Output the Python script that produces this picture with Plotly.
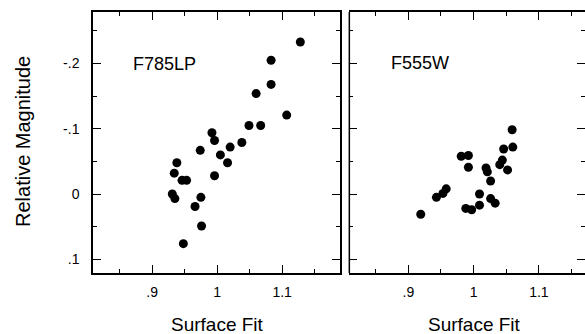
import plotly.graph_objects as go

# F785LP panel data (surface fit, relative magnitude)
f785_x = [1.128, 1.083, 1.083, 1.060, 1.107, 1.049, 1.067, 1.038, 1.020, 0.992,
          0.996, 0.974, 1.005, 1.016, 0.996, 0.938, 0.934, 0.946, 0.953, 0.931,
          0.935, 0.975, 0.966, 0.976, 0.948]
f785_y = [-0.233, -0.205, -0.168, -0.154, -0.121, -0.105, -0.105, -0.079, -0.072, -0.094,
          -0.082, -0.067, -0.060, -0.048, -0.028, -0.048, -0.032, -0.021, -0.021, 0.000,
          0.007, 0.005, 0.019, 0.049, 0.076]

# F555W panel data
f555_x = [1.059, 1.046, 1.060, 1.044, 1.040, 1.052, 0.981, 0.992, 0.992, 1.019,
          1.021, 1.026, 1.009, 1.009, 1.026, 1.033, 0.988, 0.997, 0.958, 0.953,
          0.943, 0.919]
f555_y = [-0.0985, -0.069, -0.072, -0.052, -0.045, -0.037, -0.058, -0.059, -0.041, -0.040,
          -0.034, -0.020, 0.000, 0.017, 0.007, 0.014, 0.022, 0.024, -0.008, -0.001,
          0.005, 0.031]

x_tickvals = [0.9, 1.0, 1.1]
x_ticktext = [".9", "1", "1.1"]
x_minor = [0.85, 0.95, 1.05, 1.15]
y_tickvals = [-0.2, -0.1, 0.0, 0.1]
y_ticktext = ["-.2", "-.1", "0", ".1"]
y_minor = [-0.25, -0.15, -0.05, 0.05]

FONT = "Liberation Sans, Arial, Helvetica, sans-serif"
W, H = 585, 334
ML, MR, MT, MB = 93, 0, 12, 61
PW, PH = W - ML - MR, H - MT - MB

def px(x):
    return (x - ML) / PW

def py(y):
    return (H - MB - y) / PH

marker = dict(color="black", size=9, line=dict(width=0))

fig = go.Figure()
fig.add_trace(go.Scatter(x=f785_x, y=f785_y, mode="markers", marker=marker,
                         xaxis="x", yaxis="y", showlegend=False, hoverinfo="skip"))
fig.add_trace(go.Scatter(x=f555_x, y=f555_y, mode="markers", marker=marker,
                         xaxis="x2", yaxis="y2", showlegend=False, hoverinfo="skip"))

axis_common = dict(
    showline=True, linecolor="black", linewidth=1.5,
    ticks="inside", ticklen=8, tickwidth=1.3, tickcolor="black",
    showgrid=False, zeroline=False,
    tickfont=dict(family=FONT, size=14, color="black"),
)
minor_x = dict(tickmode="array", tickvals=x_minor, ticks="inside",
               ticklen=4, tickwidth=1.3, tickcolor="black")
minor_y = dict(tickmode="array", tickvals=y_minor, ticks="inside",
               ticklen=4, tickwidth=1.3, tickcolor="black")

xr1 = [0.809, 1.189]
xr2 = [0.8096, 1.1706]
yr = [0.121, -0.279]

y2_style = dict(axis_common)
y2_style["showline"] = False

fig.update_layout(
    width=W, height=H,
    margin=dict(l=ML, r=MR, t=MT, b=MB),
    paper_bgcolor="white", plot_bgcolor="white",
    xaxis=dict(domain=[0, 0.502], range=xr1, tickmode="array",
               tickvals=x_tickvals, ticktext=x_ticktext, mirror="allticks",
               ticklabelstandoff=5, minor=minor_x, anchor="y", **axis_common),
    yaxis=dict(range=yr, tickmode="array", tickvals=y_tickvals, ticktext=y_ticktext,
               mirror="allticks", ticklabelstandoff=9, minor=minor_y,
               anchor="x", **axis_common),
    xaxis2=dict(domain=[0.521, 1], range=xr2, tickmode="array",
                tickvals=x_tickvals, ticktext=x_ticktext, mirror="allticks",
                ticklabelstandoff=5, minor=minor_x, anchor="y2", **axis_common),
    yaxis2=dict(range=yr, tickmode="array", tickvals=y_tickvals,
                showticklabels=False, mirror="allticks", minor=minor_y,
                anchor="x2", **y2_style),
)

# left border of the right panel (its right border lies outside the picture)
fig.add_shape(type="line", xref="x2 domain", yref="y2 domain",
              x0=0, x1=0, y0=0, y1=1, line=dict(color="black", width=1.5))

ann_font = dict(family=FONT, color="black")
fig.add_annotation(text="Surface Fit", xref="paper", yref="paper",
                   x=px(217), y=py(324), xanchor="center", yanchor="middle",
                   showarrow=False, font=dict(size=19, **ann_font))
fig.add_annotation(text="Surface Fit", xref="paper", yref="paper",
                   x=px(474), y=py(324), xanchor="center", yanchor="middle",
                   showarrow=False, font=dict(size=19, **ann_font))
fig.add_annotation(text="Relative Magnitude", xref="paper", yref="paper",
                   x=px(23), y=py(142), xanchor="center", yanchor="middle",
                   textangle=-90, showarrow=False, font=dict(size=20, **ann_font))
fig.add_annotation(text="F785LP", xref="paper", yref="paper",
                   x=px(131), y=py(64), xanchor="left", yanchor="middle",
                   showarrow=False, font=dict(size=18, **ann_font))
fig.add_annotation(text="F555W", xref="paper", yref="paper",
                   x=px(389), y=py(63), xanchor="left", yanchor="middle",
                   showarrow=False, font=dict(size=18, **ann_font))

fig.write_html("out.html", config={"displayModeBar": False},
               post_script="document.body.style.margin='0';document.body.style.overflow='hidden';")
